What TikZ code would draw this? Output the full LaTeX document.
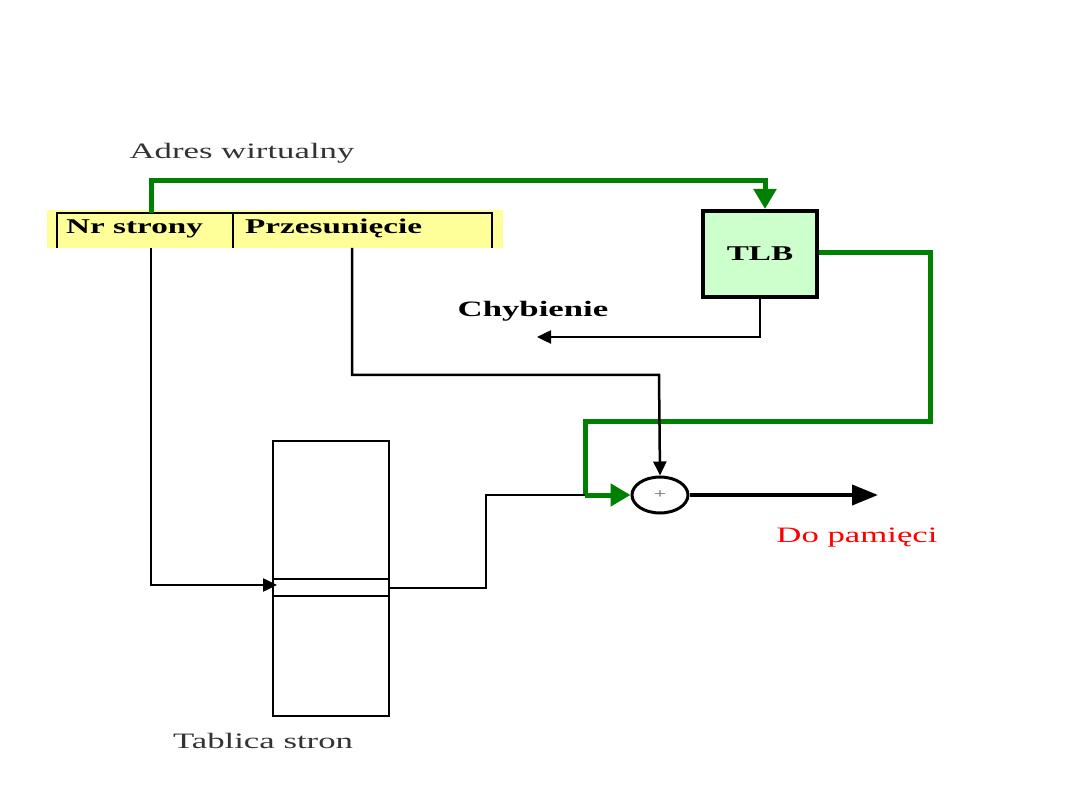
\documentclass[tikz,border=0pt]{standalone}
\usepackage{fontspec}
\setmainfont{Liberation Serif}[FakeStretch=1.58]
\usetikzlibrary{arrows.meta,shapes.geometric}
\definecolor{grn}{RGB}{0,128,0}
\definecolor{ylw}{RGB}{255,255,153}
\definecolor{tlbfill}{RGB}{204,255,204}
\tikzset{
  lbl/.style={inner sep=0pt,font=\fontsize{22}{24}\selectfont},
  blbl/.style={inner sep=0pt,font=\fontsize{21}{24}\selectfont\bfseries},
  gline/.style={draw=grn,line width=5pt},
  bline/.style={draw=black,line width=2.5pt},
  tline/.style={draw=black,line width=1.3pt},
  gtip/.style={-{Triangle[length=20pt,width=22pt]}},
  btip/.style={-{Triangle[length=14pt,width=13pt]}},
}
\begin{document}
\begin{tikzpicture}[x=1pt,y=-1pt]
\useasboundingbox (0,0) rectangle (1080,810);
% virtual address
\fill[ylw] (47,210) rectangle (503,248);
\node[lbl,text=black!80] (adres) at (242,153) {Adres wirtualny};
\coordinate (vaTL) at (57,213);
\coordinate (vaTR) at (492,213);
\draw[bline] (57,248) -- (vaTL) -- (vaTR) -- (492,248);
\draw[bline] (233,213) -- (233,248);
\node[blbl,anchor=base west] (nr) at (66,234) {Nr strony};
\node[blbl,anchor=base west] (prz) at (245,234) {Przesunięcie};
% TLB
\node[draw=black,line width=4pt,fill=tlbfill,minimum width=114pt,minimum height=86pt,inner sep=0pt,font=\fontsize{21}{24}\selectfont\bfseries] (tlb) at (760,254) {TLB};
% adder
\node[draw=black,line width=3pt,ellipse,minimum width=56pt,minimum height=36pt,inner sep=0pt,font=\fontsize{14}{14}\selectfont,text=black!60] (sum) at (660,495) {+};
% page table
\node[draw=black,line width=2pt,minimum width=116pt,minimum height=275pt,inner sep=0pt] (pt) at (331,578.5) {};
\draw[line width=2pt] (273,579) -- (389,579);
\draw[line width=2pt] (273,596) -- (389,596);
\node[lbl,text=black!80] (tabl) at (263,741) {Tablica stron};
% labels
\node[lbl,font=\fontsize{22}{24}\selectfont\bfseries] (chyb) at (533,311) {Chybienie};
\node[lbl,text=red] (dopam) at (857,538) {Do pamięci};
% green path VA -> TLB
\coordinate (g0) at (151,213);
\draw[gline,gtip] (g0) -- (151,181) -- (765,181) -- (tlb.north -| 765,0);
% green path TLB -> adder
\coordinate (g1) at (585,495);
\draw[gline] (tlb.east |- 0,253) -- (930,253) -- (930,422) -- (585,422) -- (g1);
\draw[gline,gtip] (g1) -- (sum.west);
% offset -> adder
\draw[bline,btip] (352,248) -- (352,375) -- (659,375) -- (sum.north);
% TLB miss
\coordinate (miss) at (537,337);
\draw[bline,btip] (tlb.south) -- (760,337) -- (miss);
% page number -> table
\coordinate (ptin) at (277,585);
\draw[bline,btip] (151,248) -- (151,585) -- (ptin);
% table -> adder
\draw[tline] (389,588) -- (486,588) -- (486,495) -- (g1);
% output
\coordinate (out) at (878,495);
\draw[draw=black,line width=4pt,-{Triangle[length=26pt,width=20pt]}] (sum.east) -- (out);
\end{tikzpicture}
\end{document}
